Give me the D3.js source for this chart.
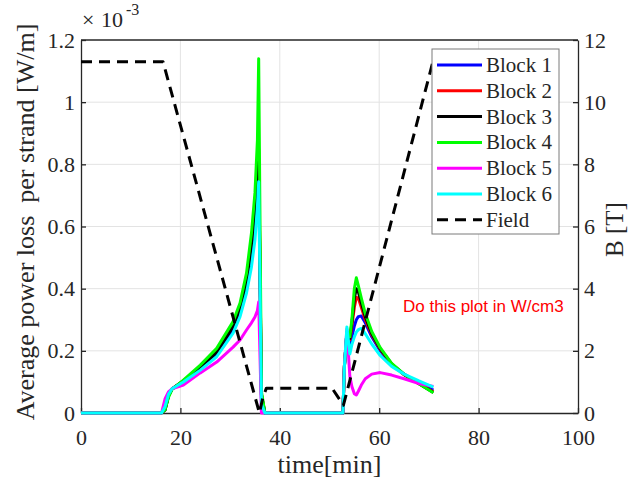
<!DOCTYPE html>
<html>
<head>
<meta charset="utf-8">
<script src="https://cdn.jsdelivr.net/npm/d3@7"></script>
<style>
  html, body { margin: 0; padding: 0; background: #fff; }
  svg { display: block; }
</style>
</head>
<body>
<script>
// Time grid (minutes) shared by all strand blocks
const minutes = [0, 16.2, 16.9, 17.6, 18.3, 20.6, 24.0, 27.3, 30.6, 32.0, 33.3, 34.3, 35.0, 35.5, 35.75, 36.3, 37.0,
                 52.7, 53.0, 53.5, 54.1, 54.5, 55.0, 55.4, 55.8, 56.4, 57.2, 58.5, 60.2, 62.5, 65.0, 68.0, 70.9];

// Average power loss per strand, in units of 1e-3 W/m
const block1 = [0, 0, 0.01, 0.055, 0.077, 0.102, 0.143, 0.190, 0.270, 0.325, 0.405, 0.515, 0.625, 0.740, 0.790, 0.05, 0,
                0, 0.15, 0.26, 0.22, 0.245, 0.28, 0.30, 0.31, 0.312, 0.29, 0.245, 0.200, 0.156, 0.125, 0.097, 0.074];
const block2 = [0, 0, 0.01, 0.055, 0.077, 0.104, 0.148, 0.198, 0.282, 0.340, 0.430, 0.550, 0.670, 0.800, 0.850, 0.06, 0,
                0, 0.15, 0.26, 0.235, 0.28, 0.34, 0.372, 0.37, 0.34, 0.30, 0.252, 0.205, 0.157, 0.123, 0.094, 0.068];
const block3 = [0, 0, 0.01, 0.055, 0.077, 0.103, 0.146, 0.195, 0.278, 0.335, 0.420, 0.540, 0.655, 0.780, 0.820, 0.06, 0,
                0, 0.15, 0.26, 0.24, 0.29, 0.37, 0.40, 0.39, 0.355, 0.31, 0.256, 0.207, 0.158, 0.124, 0.094, 0.066];
const block4 = [0, 0, 0.01, 0.050, 0.075, 0.106, 0.154, 0.208, 0.294, 0.354, 0.450, 0.579, 0.708, 0.878, 1.140, 0.07, 0,
                0, 0.15, 0.26, 0.245, 0.30, 0.40, 0.435, 0.41, 0.37, 0.32, 0.262, 0.210, 0.160, 0.125, 0.094, 0.065];
const block5 = [0, 0, 0.045, 0.068, 0.078, 0.090, 0.129, 0.164, 0.212, 0.235, 0.267, 0.290, 0.309, 0.330, 0.357, 0.0, 0,
                0, 0.15, 0.27, 0.117, 0.085, 0.062, 0.058, 0.07, 0.09, 0.11, 0.125, 0.130, 0.122, 0.110, 0.095, 0.085];
const block6 = [0, 0, 0.02, 0.060, 0.078, 0.100, 0.138, 0.181, 0.257, 0.310, 0.386, 0.470, 0.557, 0.664, 0.744, 0.03, 0,
                0, 0.15, 0.277, 0.19, 0.22, 0.245, 0.26, 0.268, 0.272, 0.255, 0.222, 0.185, 0.150, 0.125, 0.103, 0.083];

// Background magnetic field (T)
const fieldMinutes = [0, 16.5, 35.9, 36.6, 37.3, 50.5, 52.8, 70.8];
const fieldTesla   = [11.3, 11.3, 0, 0.5, 0.8, 0.8, 0.25, 11.3];

const seriesNames  = ["Block 1", "Block 2", "Block 3", "Block 4", "Block 5", "Block 6"];
const seriesValues = [block1, block2, block3, block4, block5, block6];
const seriesColors = ["#0000ff", "#ff0000", "#000000", "#00ff00", "#ff00ff", "#00ffff"];

const xTicks = [0, 20, 40, 60, 80, 100];
const yLeftTicks = [0, 0.2, 0.4, 0.6, 0.8, 1, 1.2];
const yRightTicks = [0, 2, 4, 6, 8, 10, 12];

const SERIF = "'Liberation Serif', 'Times New Roman', serif";
const SANS = "'Liberation Sans', Arial, sans-serif";
const INK = "#262626";

const W = 642, H = 482;
const plot = { left: 81, right: 578, top: 40, bottom: 413 };

const svg = d3.select("body").append("svg").attr("width", W).attr("height", H);

const x  = d3.scaleLinear().domain([0, 100]).range([plot.left, plot.right]);
const yL = d3.scaleLinear().domain([0, 1.2]).range([plot.bottom, plot.top]);
const yR = d3.scaleLinear().domain([0, 12]).range([plot.bottom, plot.top]);

const label = (sel, size) => sel.attr("font-family", SERIF).style("font-family", SERIF)
  .attr("font-size", size).attr("fill", INK).style("fill", INK);

// grid
const grid = svg.append("g").attr("stroke", "#e3e3e3").attr("stroke-width", 1);
xTicks.slice(1, -1).forEach(t => grid.append("line")
  .attr("x1", x(t)).attr("x2", x(t)).attr("y1", plot.top).attr("y2", plot.bottom));
yLeftTicks.slice(1, -1).forEach(t => grid.append("line")
  .attr("x1", plot.left).attr("x2", plot.right).attr("y1", yL(t)).attr("y2", yL(t)));

// axes
const axisStyle = g => {
  g.attr("font-family", SERIF).attr("font-size", 22);
  g.select(".domain").attr("stroke", INK).attr("stroke-width", 1.3);
  g.selectAll(".tick line").attr("stroke", INK).attr("stroke-width", 1.3);
  g.selectAll(".tick text").call(label, 22);
};

svg.append("g").attr("transform", `translate(0,${plot.bottom})`)
  .call(d3.axisBottom(x).tickValues(xTicks).tickSizeInner(-5).tickSizeOuter(0).tickPadding(16))
  .call(axisStyle);
svg.append("g").attr("transform", `translate(${plot.left},0)`)
  .call(d3.axisLeft(yL).tickValues(yLeftTicks).tickFormat(d3.format("~g")).tickSizeInner(-5).tickSizeOuter(0).tickPadding(6))
  .call(axisStyle);
svg.append("g").attr("transform", `translate(${plot.right},0)`)
  .call(d3.axisRight(yR).tickValues(yRightTicks).tickSizeInner(-5).tickSizeOuter(0).tickPadding(6))
  .call(axisStyle);
svg.append("line").attr("x1", plot.left).attr("x2", plot.right).attr("y1", plot.top).attr("y2", plot.top)
  .attr("stroke", INK).attr("stroke-width", 1.3);

// exponent label
const ex = svg.append("text").attr("y", 27).call(label, 22);
ex.append("tspan").attr("x", 82).text("×");
ex.append("tspan").attr("x", 101).text("10");
ex.append("tspan").attr("x", 126).attr("y", 15).attr("font-size", 16).text("-3");

// axis titles
svg.append("text").attr("x", (plot.left + plot.right) / 2).attr("y", 473)
  .attr("text-anchor", "middle").call(label, 26).text("time[min]");
svg.append("text").attr("transform", `translate(34,222) rotate(-90)`)
  .attr("text-anchor", "middle").call(label, 26).attr("xml:space", "preserve").style("white-space", "pre")
  .text("Average power loss  per strand [W/m]");
svg.append("text").attr("transform", `translate(623,${(plot.top + plot.bottom) / 2 + 3}) rotate(-90)`)
  .attr("text-anchor", "middle").call(label, 25).text("B [T]");

// block curves
const lineL = d3.line().x((d, i) => x(minutes[i])).y(d => yL(d));
const marks = svg.append("g").attr("fill", "none").attr("stroke-linejoin", "round");
seriesValues.forEach((vals, k) => {
  marks.append("path").attr("d", lineL(vals))
    .attr("stroke", seriesColors[k]).attr("stroke-width", 3);
});

// field (right axis)
const lineR = d3.line().x((d, i) => x(fieldMinutes[i])).y(d => yR(d));
marks.append("path").attr("d", lineR(fieldTesla))
  .attr("stroke", "#000").attr("stroke-width", 3).attr("stroke-dasharray", "11,7");

// annotation
svg.append("text").attr("x", 403).attr("y", 312)
  .attr("font-family", SANS).style("font-family", SANS).attr("font-size", 17)
  .attr("fill", "#ff0000").style("fill", "#ff0000")
  .text("Do this plot in W/cm3");

// legend
const leg = svg.append("g");
leg.append("rect").attr("x", 432).attr("y", 49).attr("width", 127).attr("height", 185)
  .attr("fill", "#fff").attr("stroke", "#7a7a7a").attr("stroke-width", 1);
const legItems = seriesNames.map((n, k) => ({ name: n, color: seriesColors[k], dash: null }))
  .concat([{ name: "Field", color: "#000", dash: "11,7" }]);
legItems.forEach((it, k) => {
  const yy = 65 + k * 25.8;
  leg.append("line").attr("x1", 437).attr("x2", 482).attr("y1", yy).attr("y2", yy)
    .attr("stroke", it.color).attr("stroke-width", 3).attr("stroke-dasharray", it.dash);
  leg.append("text").attr("x", 486).attr("y", yy + 7).call(label, 21).text(it.name);
});
</script>
</body>
</html>
